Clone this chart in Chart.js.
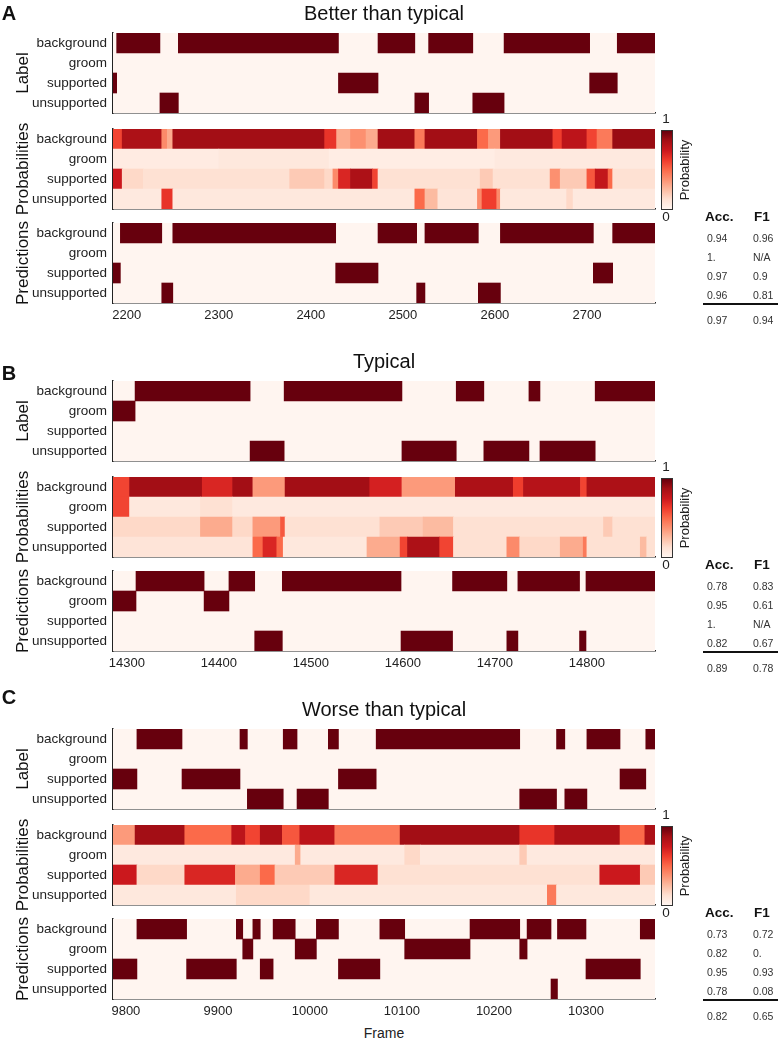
<!DOCTYPE html>
<html>
<head>
<meta charset="utf-8">
<script src="https://cdn.jsdelivr.net/npm/chart.js@4.4.0/dist/chart.umd.min.js"></script>
<style>
body { margin: 0; background: #fff; font-family: "Liberation Sans", Arial, sans-serif; }
#fig { position: relative; width: 781px; height: 1044px; overflow: hidden; }
canvas { position: absolute; }
.t { position: absolute; white-space: nowrap; color: #111; transform: translate(-50%, -50%); line-height: 1; }
.l { position: absolute; white-space: nowrap; line-height: 1; transform: translateY(-50%); }
</style>
</head>
<body>
<div id="fig"></div>
<script>
// rows of every subplot
var rows = ['background', 'groom', 'supported', 'unsupported'];

// ---- panel A : better than typical ----
var rangeA = [2185, 2774];
var ticksA = [2200, 2300, 2400, 2500, 2600, 2700];
// [start frame, class] ; each segment runs to the next start
var labelA = [[2185,'supported'],[2189,'background'],[2236,'unsupported'],[2256,'background'],[2430,'supported'],[2473,'background'],[2513,'unsupported'],[2528,'background'],[2576,'unsupported'],[2610,'background'],[2703,'supported'],[2733,'background']];
var predA = [[2185,'supported'],[2193,'background'],[2238,'unsupported'],[2250,'background'],[2427,'supported'],[2473,'background'],[2515,'unsupported'],[2524,'background'],[2582,'unsupported'],[2606,'background'],[2707,'supported'],[2728,'background']];
// [start frame, probability]
var probBgA = [[2185,0.6],[2195,0.85],[2238,0.4],[2244,0.3],[2250,0.88],[2415,0.65],[2428,0.3],[2443,0.38],[2460,0.3],[2473,0.88],[2513,0.45],[2524,0.88],[2581,0.5],[2593,0.35],[2606,0.88],[2663,0.62],[2673,0.8],[2700,0.6],[2711,0.45],[2728,0.9]];
var probGroomA = [[2185,0.06],[2300,0.08],[2420,0.05],[2600,0.07]];
var probSupA = [[2185,0.75],[2195,0.15],[2218,0.12],[2377,0.2],[2415,0.15],[2424,0.4],[2430,0.7],[2443,0.85],[2467,0.6],[2473,0.12],[2584,0.2],[2598,0.12],[2660,0.38],[2671,0.2],[2700,0.55],[2709,0.78],[2723,0.5],[2728,0.12]];
var probUnsA = [[2185,0.07],[2238,0.65],[2250,0.08],[2513,0.5],[2524,0.25],[2538,0.1],[2581,0.4],[2586,0.62],[2602,0.4],[2606,0.08],[2678,0.15],[2685,0.07]];
var accA = ['0.94', '1.', '0.97', '0.96'];
var f1A = ['0.96', 'N/A', '0.9', '0.81'];
var totalA = ['0.97', '0.94'];

// ---- panel B : typical ----
var rangeB = [14285, 14874];
var ticksB = [14300, 14400, 14500, 14600, 14700, 14800];
var labelB = [[14285,'groom'],[14309,'background'],[14434,'unsupported'],[14471,'background'],[14599,'unsupported'],[14658,'background'],[14688,'unsupported'],[14737,'background'],[14749,'unsupported'],[14809,'background']];
var predB = [[14285,'groom'],[14310,'background'],[14384,'groom'],[14411,'background'],[14439,'unsupported'],[14469,'background'],[14598,'unsupported'],[14654,'background'],[14713,'unsupported'],[14725,'background'],[14792,'unsupported'],[14799,'background']];
var probBgB = [[14285,0.6],[14303,0.88],[14382,0.7],[14415,0.88],[14437,0.35],[14472,0.88],[14564,0.72],[14599,0.35],[14657,0.85],[14720,0.62],[14731,0.82],[14793,0.6],[14800,0.85]];
var probGroomB = [[14285,0.6],[14303,0.08],[14380,0.12],[14415,0.07]];
var probSupB = [[14285,0.15],[14380,0.3],[14415,0.15],[14437,0.35],[14467,0.55],[14472,0.12],[14575,0.2],[14622,0.25],[14655,0.12],[14818,0.2],[14828,0.12]];
var probUnsB = [[14285,0.1],[14437,0.5],[14448,0.7],[14463,0.5],[14470,0.08],[14561,0.3],[14597,0.6],[14605,0.85],[14640,0.6],[14655,0.12],[14713,0.4],[14727,0.15],[14771,0.3],[14796,0.45],[14800,0.12],[14858,0.25],[14865,0.12]];
var accB = ['0.78', '0.95', '1.', '0.82'];
var f1B = ['0.83', '0.61', 'N/A', '0.67'];
var totalB = ['0.89', '0.78'];

// ---- panel C : worse than typical ----
var rangeC = [9786, 10375];
var ticksC = [9800, 9900, 10000, 10100, 10200, 10300];
var labelC = [[9786,'supported'],[9812,'background'],[9861,'supported'],[9924,'background'],[9932,'unsupported'],[9971,'background'],[9986,'unsupported'],[10020,'background'],[10031,'supported'],[10072,'background'],[10228,'unsupported'],[10268,'background'],[10277,'unsupported'],[10301,'background'],[10337,'supported'],[10365,'background']];
var predC = [[9786,'supported'],[9812,'background'],[9866,'supported'],[9920,'background'],[9927,'groom'],[9938,'background'],[9946,'supported'],[9960,'background'],[9984,'groom'],[10007,'background'],[10031,'supported'],[10076,'background'],[10103,'groom'],[10174,'background'],[10228,'groom'],[10236,'background'],[10262,'unsupported'],[10269,'background'],[10300,'supported'],[10359,'background']];
var probBgC = [[9786,0.35],[9810,0.88],[9864,0.5],[9915,0.8],[9930,0.6],[9946,0.85],[9970,0.55],[9989,0.8],[10027,0.45],[10098,0.88],[10228,0.65],[10266,0.85],[10337,0.5],[10364,0.85]];
var probGroomC = [[9786,0.07],[9984,0.3],[9990,0.07],[10103,0.15],[10120,0.07],[10228,0.2],[10236,0.07]];
var probSupC = [[9786,0.75],[9812,0.15],[9864,0.7],[9919,0.3],[9946,0.5],[9962,0.2],[10027,0.7],[10074,0.12],[10315,0.75],[10359,0.2]];
var probUnsC = [[9786,0.08],[9920,0.15],[10000,0.08],[10258,0.45],[10268,0.08]];
var accC = ['0.73', '0.82', '0.95', '0.78'];
var f1C = ['0.72', '0.', '0.93', '0.08'];
var totalC = ['0.82', '0.65'];

var titles = ['Better than typical', 'Typical', 'Worse than typical'];
var letters = ['A', 'B', 'C'];

// matplotlib "Reds"
var reds = ['#fff5f0','#fee0d2','#fcbba1','#fc9272','#fb6a4a','#ef3b2c','#cb181d','#a50f15','#67000d'];
function hex(c) { return [1, 3, 5].map(function(i) { return parseInt(c.substr(i, 2), 16); }); }
function redColor(v) {
    var p = Math.max(0, Math.min(1, v)) * (reds.length - 1);
    var i = Math.min(Math.floor(p), reds.length - 2), f = p - i;
    var a = hex(reds[i]), b = hex(reds[i + 1]);
    return 'rgb(' + a.map(function(x, k) { return Math.round(x + (b[k] - x) * f); }).join(',') + ')';
}

var fig = document.getElementById('fig');
var PLOT_RIGHT = 655, AXIS_W = 113, CW = 662;

// fill plot area with the colormap's zero colour
var bgFill = {
    id: 'bgFill',
    beforeDatasetsDraw: function(chart) {
        var a = chart.chartArea, ctx = chart.ctx;
        ctx.save();
        ctx.fillStyle = reds[0];
        ctx.fillRect(a.left, a.top, a.right - a.left, a.bottom - a.top);
        ctx.restore();
    }
};

function segBars(segs, end) {
    return segs.map(function(s, i) {
        return [s[0], i + 1 < segs.length ? segs[i + 1][0] : end, s[1], reds[8]];
    });
}
function probBars(lists, end) {
    var out = [];
    lists.forEach(function(list, r) {
        list.forEach(function(s, i) {
            out.push([s[0], i + 1 < list.length ? list[i + 1][0] : end, rows[r], redColor(s[1])]);
        });
    });
    return out;
}

function addPlot(top, range, ticks, title, bars, withX) {
    var padTop = 16, padBot = withX ? 0 : 16, xh = withX ? 24 : 0;
    var c = document.createElement('canvas');
    c.width = CW;
    c.height = 80 + padTop + padBot + xh;
    c.style.left = '0px';
    c.style.top = (top - padTop) + 'px';
    fig.appendChild(c);
    new Chart(c, {
        type: 'bar',
        data: {
            datasets: [{
                data: bars.map(function(b) { return { x: [b[0], b[1]], y: b[2] }; }),
                backgroundColor: bars.map(function(b) { return b[3]; }),
                borderWidth: 0,
                barPercentage: 1,
                categoryPercentage: 1
            }]
        },
        options: {
            indexAxis: 'y',
            responsive: false,
            animation: false,
            layout: { padding: { top: padTop, bottom: padBot, left: 0, right: CW - PLOT_RIGHT } },
            plugins: { legend: { display: false }, tooltip: { enabled: false } },
            scales: {
                x: {
                    type: 'linear', min: range[0], max: range[1], z: 1,
                    grid: { display: false, drawTicks: false },
                    border: { display: true, color: '#222', width: 1.5 },
                    ticks: {
                        display: withX, padding: 5, color: '#222', autoSkip: false,
                        font: { family: 'Liberation Sans', size: 13 },
                        callback: function(v) { return String(v); }
                    },
                    afterBuildTicks: function(s) { s.ticks = ticks.map(function(v) { return { value: v }; }); },
                    afterFit: function(s) { s.height = xh; }
                },
                y: {
                    type: 'category', labels: rows, z: 1,
                    grid: { display: false, drawTicks: false },
                    border: { display: true, color: '#222', width: 1.5 },
                    ticks: { padding: 6, color: '#222', font: { family: 'Liberation Sans', size: 13.5 } },
                    title: { display: true, text: title, color: '#111', padding: { top: 13, bottom: 0 }, font: { family: 'Liberation Sans', size: 17 } },
                    afterFit: function(s) { s.width = AXIS_W; }
                }
            }
        },
        plugins: [bgFill]
    });
}

function txt(s, x, y, css) {
    var d = document.createElement('div');
    d.className = 't';
    d.textContent = s;
    d.style.left = x + 'px';
    d.style.top = y + 'px';
    d.style.cssText += css || '';
    fig.appendChild(d);
    return d;
}
function ltxt(s, x, y, css) {
    var d = document.createElement('div');
    d.className = 'l';
    d.textContent = s;
    d.style.left = x + 'px';
    d.style.top = y + 'px';
    d.style.cssText += css || '';
    fig.appendChild(d);
}

var panels = [
    { top: 33, range: rangeA, ticks: ticksA, label: labelA, pred: predA, prob: [probBgA, probGroomA, probSupA, probUnsA], acc: accA, f1: f1A, total: totalA, letterY: 13 },
    { top: 381, range: rangeB, ticks: ticksB, label: labelB, pred: predB, prob: [probBgB, probGroomB, probSupB, probUnsB], acc: accB, f1: f1B, total: totalB, letterY: 373 },
    { top: 729, range: rangeC, ticks: ticksC, label: labelC, pred: predC, prob: [probBgC, probGroomC, probSupC, probUnsC], acc: accC, f1: f1C, total: totalC, letterY: 697 }
];

var gradient = 'linear-gradient(to top,' + reds.join(',') + ')';

panels.forEach(function(p, k) {
    var T = p.top, end = p.range[1];
    addPlot(T, p.range, p.ticks, 'Label', segBars(p.label, end), false);
    addPlot(T + 96, p.range, p.ticks, 'Probabilities', probBars(p.prob, end), false);
    addPlot(T + 190, p.range, p.ticks, 'Predictions', segBars(p.pred, end), true);

    txt(titles[k], 384, T - 20, 'font-size:20px;');
    txt(letters[k], 9, p.letterY, 'font-size:20px;font-weight:bold;');

    // colour bar
    var cb = document.createElement('div');
    cb.style.cssText = 'position:absolute;left:661px;top:' + (T + 97) + 'px;width:10px;height:78px;border:1px solid #333;background:' + gradient + ';';
    fig.appendChild(cb);
    txt('1', 666, T + 86, 'font-size:13.5px;color:#222;');
    txt('0', 666, T + 184, 'font-size:13.5px;color:#222;');
    txt('Probability', 684, T + 137, 'font-size:13px;color:#222;transform:translate(-50%,-50%) rotate(-90deg);');

    // metrics table
    ltxt('Acc.', 705, T + 184, 'font-size:13.5px;font-weight:bold;color:#111;');
    ltxt('F1', 754, T + 184, 'font-size:13.5px;font-weight:bold;color:#111;');
    for (var i = 0; i < 4; i++) {
        ltxt(p.acc[i], 707, T + 205 + 19 * i, 'font-size:10.5px;color:#333;');
        ltxt(p.f1[i], 753, T + 205 + 19 * i, 'font-size:10.5px;color:#333;');
    }
    var line = document.createElement('div');
    line.style.cssText = 'position:absolute;left:703px;top:' + (T + 270) + 'px;width:75px;height:2px;background:#111;';
    fig.appendChild(line);
    ltxt(p.total[0], 707, T + 287, 'font-size:10.5px;color:#333;');
    ltxt(p.total[1], 753, T + 287, 'font-size:10.5px;color:#333;');
});

txt('Frame', 384, 1033, 'font-size:14px;color:#222;');
</script>
</body>
</html>
